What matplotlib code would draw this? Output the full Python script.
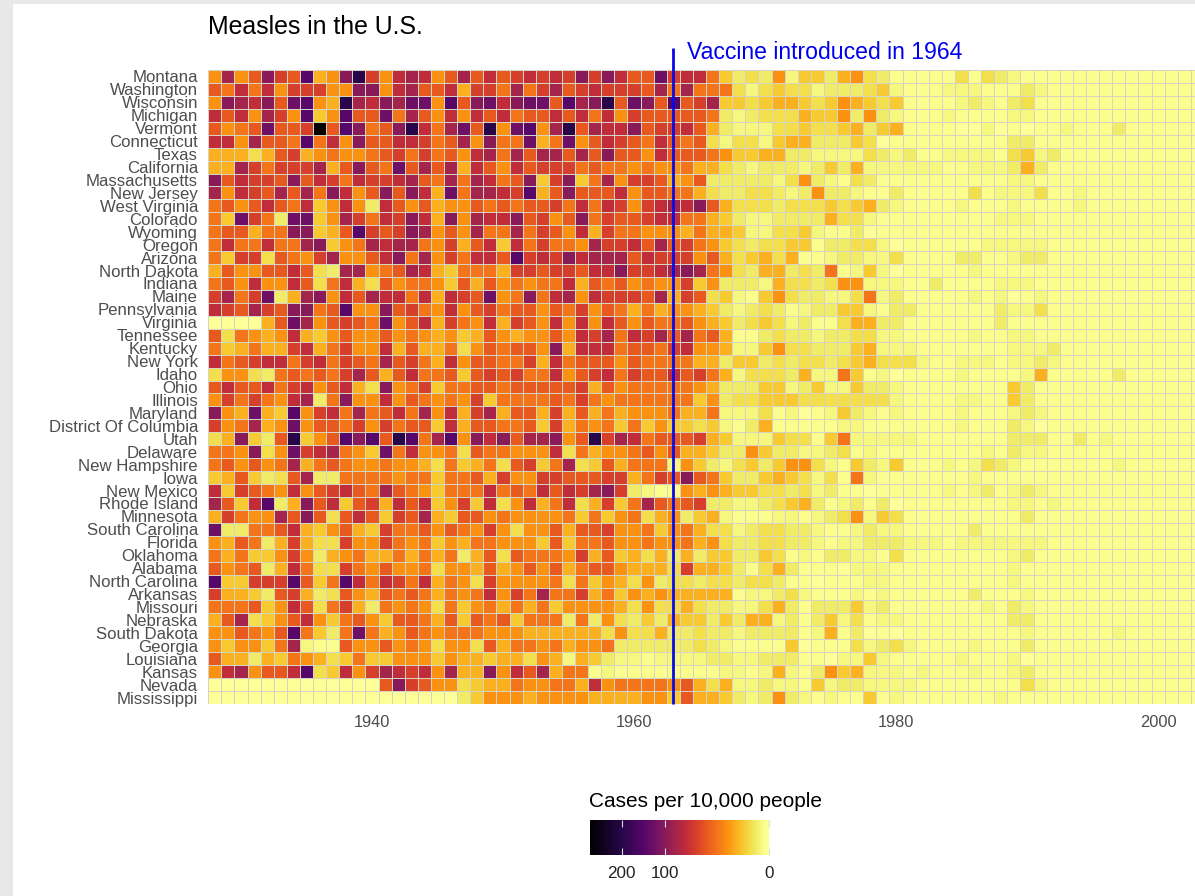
import numpy as np
import matplotlib
matplotlib.use("Agg")
import matplotlib.pyplot as plt
from matplotlib.colors import PowerNorm, LinearSegmentedColormap
from matplotlib.cm import ScalarMappable
from matplotlib.patches import Rectangle

plt.rcParams['font.family'] = ['Liberation Sans', 'DejaVu Sans']

states = ["Montana", "Washington", "Wisconsin", "Michigan", "Vermont", "Connecticut", "Texas",
          "California", "Massachusetts", "New Jersey", "West Virginia", "Colorado", "Wyoming",
          "Oregon", "Arizona", "North Dakota", "Indiana", "Maine", "Pennsylvania", "Virginia",
          "Tennessee", "Kentucky", "New York", "Idaho", "Ohio", "Illinois", "Maryland",
          "District Of Columbia", "Utah", "Delaware", "New Hampshire", "Iowa", "New Mexico",
          "Rhode Island", "Minnesota", "South Carolina", "Florida", "Oklahoma", "Alabama",
          "North Carolina", "Arkansas", "Missouri", "Nebraska", "South Dakota", "Georgia",
          "Louisiana", "Kansas", "Nevada", "Mississippi"]

code_cases = dict(zip("0123456789abcdefgh",
                      [0, 0.2, 0.6, 1.5, 3, 6, 10, 16, 25, 36, 49, 64, 81, 100, 121, 144, 200, 296]))

# 1928-1942
early = ["7c79da9f67dga7b", "98b8b7aaa77dd7b", "7dcbd9ef76gcbdc", "b9b7ca7f57f99e8", "9789e99ah9fd89d",
         "bb7c998f8b7d99b", "666469a6787789a", "66ca8aaac69d98e", "d9baa9d9ba8baab", "c7ba9c9c8db79d9",
         "8979b98b57b73b9", "85ea83ee57ca8ba", "899688dd569fa9a", "8b88b88cd578cbc", "85aa4987ac779bd",
         "697799b943cc789", "897b77b948b6497", "ac8ae36cd7b9cbb", "ba9ca9dd89f77d9", "000069ec79a98e7",
         "948767b65797797", "856866ab68a77b6", "b89abb8ab8a98c9", "4774389898ac969", "9b99b8ab79b64d7",
         "7a8a87bc38d77b7", "d76e65f7ab8c89b", "a78c67e7998a7a8", "46d539g579fdf9g", "887d47eabc875e8",
         "897978c68987787", "5695349c3388887", "b5a987b79ab98c9", "c95bf36d9b59a6b", "6a877c9d949b95a",
         "e33889b657965a8", "769836a644a77a8", "868557a73678668", "978936b844a8797", "f55aaaf958fb8ba",
         "a66539a63497698", "888957b948a6387", "69c4579b7589759", "779879f8538e867", "757758c21197797",
         "966365876458557", "7bc799bf45b7acb", "00000000000009d", "000000000000000"]

# 1943-1972
middle = ["cb79c9b9ab abadadb99e abb8534372", "c99b6aa8c8 ac9abaaa9c 8c88842454",
          "ee7f9debde e9fcdg9ed9 f9ac554566", "c97b7b9b89 9b9b8b7a99 9998323444",
          "gb8ce9g7ef 7cg9cbbd9a ab96322244", "ba89c7d88e 68e79ba98b 9894244256",
          "8a897bc8c9 cc9c9d997b 9998755663", "9c9c6b97b9 aaa8988787 7866432333",
          "c98c8cb89d 5ad58c7aa9 6793333324", "db6e8ccbaf 69d999b799 8864334432",
          "7967798989 9a8b8ba7ab cbd9644434", "db6d7cbbd9 a79d8a99ab b886532233",
          "dc797c88c8 a97b6a8877 7686652244", "c87a69b5b8 a887caab9c 9a87543445",
          "8c7a8bb9fa badbccc9ba aa79645646", "cb658886aa 9aa9bbdaab cdc8743663",
          "8875969787 88b6989787 7a57333264", "8b6ba9e78d 8bc7baaa9c 6a94521574",
          "a87b79a899 798a798686 7765323431", "9b6a87b6a9 7b7b7b9798 8976534542",
          "8767569767 797bac8bac 9c89611343", "9668479899 7d6bbb8998 ab77622574",
          "a86b79988a 6b89997988 8866355343", "b88959a9a8 8b79ab8a99 b9a8624443",
          "8a58899899 999a697888 8876333552", "98787a5888 898a878888 8857344555",
          "8c7b6ac699 6a69686777 8668222412", "995b699889 5a68785857 5545213611",
          "f8cf7dbd9c cd79gacb89 99a6522254", "b778498877 7b48677897 9665337533",
          "764856849a 58c4596888 2753245357", "8858896a77 aa999aa68a 9d98533565",
          "875888b898 b9bacda321 1767655443", "9b57a5b47b 68b46a58c9 89a3322345",
          "9c65997877 7785857846 7356211122", "897987a747 79699a7785 7864423443",
          "7857688777 5958897787 7867433443", "6868369498 887a695646 3635533541",
          "7847769679 7968997666 4a66531463", "8b6874a777 7848576473 4434434431",
          "986878b7a8 c88a685767 6666612234", "8748578686 8577776474 4643322463",
          "9869598958 8838374353 6553536623", "9878887776 6666647446 3343323333",
          "8747749688 7867783333 3343211115", "7757665664 7626532212 2223322333",
          "ab7c66d7b9 c688121111 1111221262", "a977456687 7886b78888 7964622322",
          "0000357776 7777666677 5966532373"]

# 1973-2003, the last year is only a sliver at the right edge
late = ["5536743111 1141432111 11111111111", "4233345211 1222111321 11111111111",
        "5457654511 1123213411 11111111111", "6557373211 1211112211 11111111111",
        "5445635611 1100201011 21113111111", "6333540111 1111113311 11111111111",
        "3222243231 1222214523 11111111111", "2353622222 2112223631 11111111111",
        "7321431111 1111112211 11111111111", "3733211311 1114122241 12111111111",
        "4454563211 1121112111 12111111111", "3364421111 1111122211 11111111111",
        "5211301111 1111111111 11111111111", "5133442011 1111222221 11111111111",
        "1123322411 1133112331 11111111111", "4381252011 1112111111 11111111111",
        "4347722211 3111122211 11111111111", "3322482311 1112120121 11111111111",
        "2335521331 1111132241 11111111111", "3114663311 1111131111 11111111111",
        "3233442211 1112112211 11111111111", "4333562221 1111112223 11111111111",
        "4434564442 1122212232 11111111111", "6228512011 1121111261 11113111111",
        "3522533211 1111115311 11111111111", "4444444211 1122115311 11111111111",
        "0125321211 1121112321 11111111111", "1112211111 1121113201 11111111111",
        "4158222221 1111113331 13121111111", "2234121111 1111213221 11111111111",
        "7421532511 1212432111 11112111111", "4241821111 1112111111 11111111111",
        "4231101111 1212312321 11111111111", "6312313011 1111112212 11111111111",
        "1234725411 1111111311 11111111111", "3211232211 1113111111 11111111111",
        "3212233322 2122222221 11111111111", "2133221411 1111112311 11111111111",
        "1110222111 1111112111 11111111111", "1011122111 1111112111 11111111111",
        "2111212111 1113111211 11111111111", "1333523111 1111213211 11111111111",
        "1352412211 1111113311 11111111111", "1261301011 1111111211 11112111111",
        "0111423421 1112111311 11111111111", "1102252111 1121112011 11111111111",
        "1375622212 1112112311 11111111111", "1523322221 1111111421 11111111111",
        "2121151211 1111121111 11111111111"]

years = np.arange(1928, 2004)
vaccine_year = 1963
rows = [(a + b + c).replace(" ", "") for a, b, c in zip(early, middle, late)]
rate = np.array([[code_cases[ch] for ch in row] for row in rows])

# inferno as it looks in the screenshot, a bit more saturated than the stock one
stops = [(0, '#ffff99'), (.026, '#fbfe8c'), (.045, '#f6f77f'), (.071, '#f0ec66'), (.10, '#f3df4c'),
         (.142, '#f6c92f'), (.184, '#fab01f'), (.23, '#fb9210'), (.29, '#f4741a'), (.35, '#e8581f'),
         (.407, '#d63f2b'), (.465, '#c02c3a'), (.523, '#a4244b'), (.58, '#8a1a5a'), (.64, '#6e1066'),
         (.70, '#56066a'), (.82, '#28064a'), (1, '#000000')]
cmap = LinearSegmentedColormap.from_list('screen_inferno', stops, N=512)

W, H = 1195, 896
fig = plt.figure(figsize=(W / 100, H / 100), dpi=100, facecolor='white')

# screenshot border
fig.add_artist(Rectangle((0, 0), 13 / W, 1, transform=fig.transFigure, color='#e8e8e8', lw=0))
fig.add_artist(Rectangle((0, 1 - 4 / H), 1, 4 / H, transform=fig.transFigure, color='#e8e8e8', lw=0))

ax = fig.add_axes([208 / W, 1 - 704 / H, 987 / W, 634 / H])
norm = PowerNorm(0.5, vmin=0, vmax=296)
x_edges = np.append(years - 0.5, years[-1] + 0.5)
y_edges = np.arange(len(states) + 1) - 0.5
ax.pcolormesh(x_edges, y_edges, rate, cmap=cmap, norm=norm, edgecolors='#d6d3c2', linewidth=0.6)
ax.set_xlim(1927.48, 2002.82)
ax.set_ylim(len(states) - 0.5, -0.5)
for s in ax.spines.values():
    s.set_visible(False)

ax.set_yticks(np.arange(len(states)))
ax.set_yticklabels(states, fontsize=12.1, color='#4d4d4d')
ax.set_xticks([1940, 1960, 1980, 2000])
ax.tick_params(axis='both', length=0)
ax.tick_params(axis='y', pad=7.2)
ax.tick_params(axis='x', pad=8, labelsize=11.8, labelcolor='#4d4d4d')

# vaccine line goes up past the panel
ax.plot([vaccine_year, vaccine_year], [len(states) - 0.5, -2.2], color='#0a0ae6', linewidth=2,
        clip_on=False, solid_capstyle='butt')
fig.text(687 / W, 1 - 52.5 / H, "Vaccine introduced in 1964", color='#0000ee', fontsize=16.6, va='center', ha='left')
fig.text(208 / W, 1 - 27 / H, "Measles in the U.S.", color='black', fontsize=17.9, va='center', ha='left')

# colour bar legend, 0 on the right
fig.text(589 / W, 1 - 801 / H, "Cases per 10,000 people", color='black', fontsize=15, va='center', ha='left')
cax = fig.add_axes([590 / W, 1 - 855 / H, 179 / W, 35 / H])
cb = fig.colorbar(ScalarMappable(norm=norm, cmap=cmap), cax=cax, orientation='horizontal', ticks=[0, 100, 200])
cb.outline.set_visible(False)
cax.invert_xaxis()
cax.tick_params(axis='x', which='major', direction='in', top=True, bottom=True, color='#dddddd', length=5,
                width=0.8, labelsize=12.3, pad=8, labelcolor='#222222')
cax.minorticks_off()

fig.savefig("out.png", dpi=100)
